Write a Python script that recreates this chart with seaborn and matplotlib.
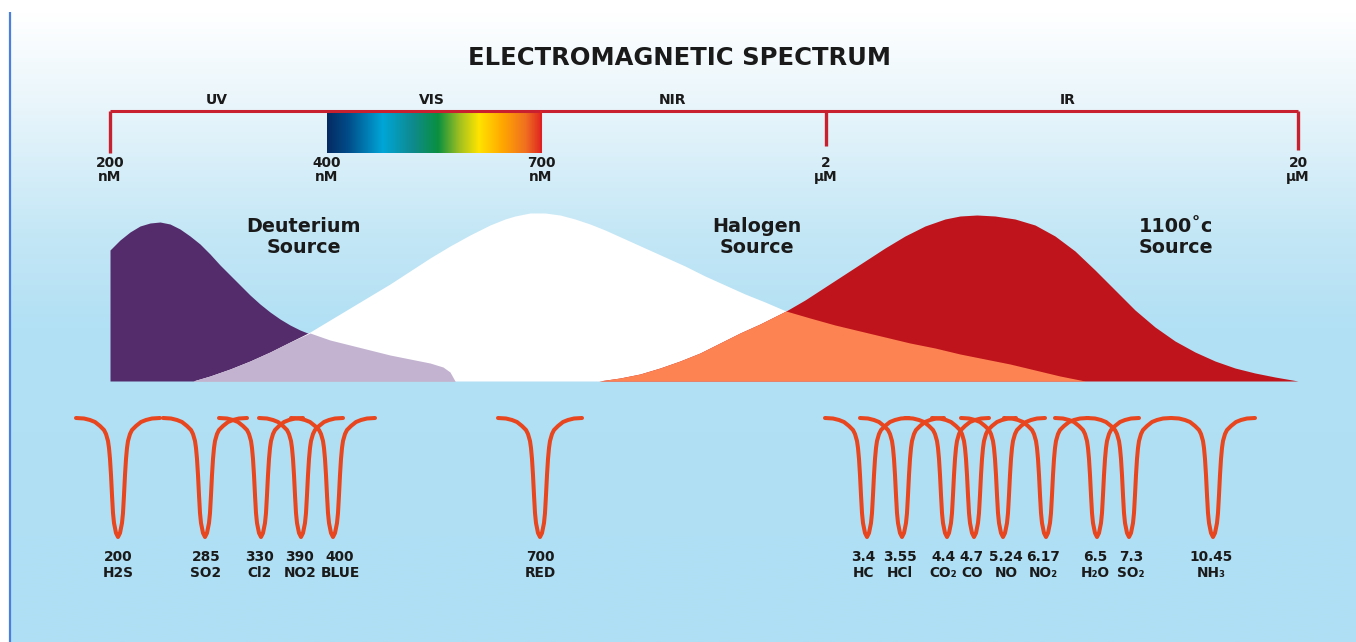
import numpy as np
import pandas as pd
import matplotlib
matplotlib.use("Agg")
import matplotlib.pyplot as plt
from matplotlib.colors import LinearSegmentedColormap
import seaborn as sns

# ---------------- data (picture units, y grows downward) ----------------
title = "ELECTROMAGNETIC SPECTRUM"

band_names = ["UV", "VIS", "NIR", "IR"]
band_x = [217, 432, 673, 1068]

scale_x = [110, 327, 541, 826, 1298]
scale_labels = ["200\nnM", "400\nnM", "700\nnM", "2\nμM", "20\nμM"]
tick_x = [110, 826, 1298]
tick_end = [153, 146, 150]

# light source emission curves (outline)
purple_x = [110, 120, 130, 140, 150, 160, 170, 180, 190, 200, 210, 220, 230, 240,
            250, 260, 270, 280, 290, 300, 310, 330, 350, 370, 390, 410, 430, 443,
            450, 455]
purple_y = [250, 240, 232, 226, 223, 222, 224, 229, 236, 244, 254, 265, 275, 285,
            295, 304, 312, 319, 325, 330, 334, 340, 345, 350, 355, 359, 363, 367,
            372, 381]

white_x = [193, 210, 230, 250, 270, 290, 310, 330, 350, 370, 390, 410, 430, 450,
           470, 490, 505, 515, 530, 545, 560, 575, 590, 605, 625, 645, 665, 685,
           705, 725, 745, 765, 786, 810, 835, 860, 885, 910, 935, 960, 985, 1010,
           1035, 1060, 1085]
white_y = [381, 376, 369, 361, 352, 342, 332, 320, 308, 296, 284, 271, 258, 246,
           235, 225, 219, 216, 213, 213, 215, 219, 224, 230, 239, 248, 257, 266,
           276, 285, 294, 302, 311, 318, 325, 331, 337, 343, 348, 354, 359, 364,
           370, 376, 381]

red_x = [599, 620, 640, 660, 680, 700, 720, 740, 760, 786, 805, 825, 845, 865,
         885, 905, 925, 945, 960, 977, 995, 1015, 1035, 1055, 1075, 1095, 1115,
         1135, 1155, 1175, 1195, 1215, 1235, 1255, 1275, 1298]
red_y = [381, 378, 374, 368, 361, 353, 343, 333, 324, 311, 300, 287, 274, 261,
         248, 236, 226, 219, 216, 215, 216, 219, 225, 236, 251, 270, 290, 310,
         327, 341, 352, 361, 368, 373, 377, 381]

# overlap of deuterium + halogen, and halogen + 1100 c
lilac_x = [193, 210, 230, 250, 270, 290, 310, 330, 350, 370, 390, 410, 430, 443,
           450, 455]
lilac_y = [381, 376, 369, 361, 352, 342, 333, 340, 345, 350, 355, 359, 363, 367,
           372, 381]

orange_x = [599, 620, 640, 660, 680, 700, 720, 740, 760, 786, 810, 835, 860, 885,
            910, 935, 960, 985, 1010, 1035, 1060, 1085]
orange_y = [381, 378, 374, 368, 361, 353, 343, 333, 324, 311, 318, 325, 331, 337,
            343, 348, 354, 359, 364, 370, 376, 381]
baseline = 381

source_labels = ["Deuterium\nSource", "Halogen\nSource", "1100˚c\nSource"]
source_x = [304, 757, 1176]

# absorption lines
dip_x = [118, 205, 261, 301, 333, 540, 867, 902, 947, 974, 1003, 1046, 1097, 1129, 1213]
dip_values = ["200", "285", "330", "390", "400", "700", "3.4", "3.55", "4.4", "4.7",
              "5.24", "6.17", "6.5", "7.3", "10.45"]
dip_gases = ["H2S", "SO2", "Cl2", "NO2", "BLUE", "RED", "HC", "HCl", "CO₂", "CO",
             "NO", "NO₂", "H₂O", "SO₂", "NH₃"]
label_x = [118, 206, 260, 300, 340, 540, 863, 900, 943, 972, 1006, 1043, 1095, 1131, 1211]

# one dip profile (half width, depth below the top of the line)
dip_dx = [0, 2, 4, 5, 6, 7, 8, 9, 10, 12, 14, 18, 23, 28, 34, 42]
dip_depth = [122, 118, 108, 98, 80, 60, 44, 33, 26, 19, 15, 11, 7, 5, 3.5, 3]
dip_top = 415

# ---------------- figure ----------------
sns.set_theme(style="white")
plt.rcParams['font.family'] = ['DejaVu Sans']

fig = plt.figure(figsize=(13.56, 6.42), dpi=100)
ax = fig.add_axes([0, 0, 1, 1])

# background gradient
bg = LinearSegmentedColormap.from_list(
    "bg", [(0, "#ffffff"), (0.15, "#e8f5fb"), (0.35, "#c4e7f6"),
           (0.5, "#b2e0f4"), (1, "#afdff4")])
ax.imshow(np.linspace(0, 1, 256)[:, None], cmap=bg, aspect="auto",
          extent=(10, 1356, 642, 12), zorder=0)
ax.vlines(10, 12, 642, color="#4a7fe0", lw=1.6, zorder=1)

ax.text(680, 58, title, ha="center", va="center", fontsize=17.5,
        fontweight="bold", color="#1a1a1a")

# spectrum scale
red_line = "#c8202e"
ax.plot([scale_x[0], scale_x[-1]], [111, 111], color=red_line, lw=2.2,
        solid_capstyle="butt", zorder=3)
ax.vlines(tick_x, 111, tick_end, color=red_line, lw=2.4, zorder=3)

vis = LinearSegmentedColormap.from_list(
    "vis", [(0, "#062a62"), (0.10, "#004e8a"), (0.26, "#00a6d8"),
            (0.40, "#0e8a8e"), (0.52, "#0a9040"), (0.62, "#a0c020"),
            (0.71, "#ffe400"), (0.82, "#ffa800"), (0.93, "#f07020"),
            (1, "#e02a20")])
ax.imshow(np.linspace(0, 1, 256)[None, :], cmap=vis, aspect="auto",
          extent=(scale_x[1], scale_x[2], 153, 111), zorder=2)
ax.vlines(scale_x[2], 111, 153, color="#e02020", lw=1.5, zorder=3)

for x, lab in zip(scale_x, scale_labels):
    ax.text(x, 170, lab, ha="center", va="center", fontsize=9.9,
            fontweight="bold", linespacing=1.0, color="#1a1a1a")
for x, lab in zip(band_x, band_names):
    ax.text(x, 100, lab, ha="center", va="center", fontsize=10,
            color="#1a1a1a", fontweight="bold")

# sources
ax.fill_between(purple_x, purple_y, baseline, color="#542c6c", lw=0, zorder=2)
ax.fill_between(white_x, white_y, baseline, color="#ffffff", lw=0, zorder=3)
ax.fill_between(lilac_x, lilac_y, baseline, color="#c3b3d0", lw=0, zorder=4)
ax.fill_between(red_x, red_y, baseline, color="#c0141c", lw=0, zorder=5)
ax.fill_between(orange_x, orange_y, baseline, color="#fd8452", lw=0, zorder=6)

for x, lab in zip(source_x, source_labels):
    ax.text(x, 237, lab, ha="center", va="center", fontsize=13.8,
            fontweight="bold", linespacing=1.15, color="#1a1a1a", zorder=7)

# absorption lines
half_dx = np.array(dip_dx, dtype=float)
half_depth = np.array(dip_depth, dtype=float)
prof_dx = np.concatenate([-half_dx[::-1], half_dx[1:]])
prof_depth = np.concatenate([half_depth[::-1], half_depth[1:]])
rows = []
for i, c in enumerate(dip_x):
    for dx, d in zip(prof_dx, prof_depth):
        rows.append({"dip": i, "x": c + dx, "y": dip_top + d})
dips = pd.DataFrame(rows)
sns.lineplot(data=dips, x="x", y="y", units="dip", estimator=None, sort=False,
             color="#e8461e", lw=2.9, ax=ax, legend=False, zorder=4)
for line in ax.lines:
    line.set_solid_joinstyle("round")

for x, v, g in zip(label_x, dip_values, dip_gases):
    ax.text(x, 565, v + "\n" + g, ha="center", va="center", fontsize=9.9,
            fontweight="bold", linespacing=1.1, color="#1a1a1a")

ax.set_xlim(0, 1356)
ax.set_ylim(642, 0)
ax.axis("off")

fig.savefig("out.png", dpi=100)
